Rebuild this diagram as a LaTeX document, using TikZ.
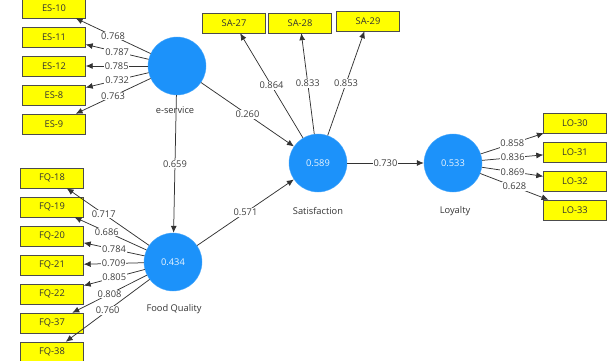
\documentclass[tikz,border=0pt]{standalone}
\usepackage{fontspec}
\setmainfont{Open Sans}
\usetikzlibrary{calc}
\usetikzlibrary{arrows.meta}
\definecolor{lvblue}{RGB}{28,146,250}
\definecolor{indyellow}{RGB}{255,255,0}

\begin{document}
\begin{tikzpicture}[x=1pt,y=-1pt,font=\fontsize{9.3}{11}\selectfont,
   lv/.style={circle,fill=lvblue,draw=lvblue!80!white,minimum size=58pt,inner sep=0pt,text=white!90!lvblue},
   ind/.style={rectangle,draw=black!70,fill=indyellow,minimum width=63pt,minimum height=20pt,inner sep=0pt,text=black!80},
   lnk/.style={draw=black!80,line width=0.75pt,-{Latex[length=7pt,width=6pt]}},
   coef/.style={fill=white,inner sep=0.8pt,text=black!75},
   lvname/.style={text=black!80}]
\useasboundingbox (0,0) rectangle (611,360);
\node[lv] (es) at (177,66) {};
\node[lvname] (esname) at (175,110) {e-service};
\node[lv] (fq) at (173,262) {0.434};
\node[lvname] (fqname) at (174,309) {Food Quality};
\node[lv] (sa) at (318,163) {0.589};
\node[lvname] (saname) at (318,211) {Satisfaction};
\node[lv] (lo) at (453,163) {0.533};
\node[lvname] (loname) at (455,211) {Loyalty};
\node[ind] (es10) at (54,8) {ES-10};
\node[ind] (es11) at (54,37) {ES-11};
\node[ind] (es12) at (54,66) {ES-12};
\node[ind] (es8) at (54,95) {ES-8};
\node[ind] (es9) at (54,124) {ES-9};
\node[ind] (fq18) at (52,178) {FQ-18};
\node[ind] (fq19) at (52,207) {FQ-19};
\node[ind] (fq20) at (52,236) {FQ-20};
\node[ind] (fq21) at (52,265) {FQ-21};
\node[ind] (fq22) at (52,294) {FQ-22};
\node[ind] (fq37) at (52,323) {FQ-37};
\node[ind] (fq38) at (52,352) {FQ-38};
\node[ind] (sa27) at (234,23) {SA-27};
\node[ind] (sa28) at (300,23) {SA-28};
\node[ind] (sa29) at (368,21) {SA-29};
\node[ind] (lo30) at (575,123) {LO-30};
\node[ind] (lo31) at (575,152) {LO-31};
\node[ind] (lo32) at (575,181) {LO-32};
\node[ind] (lo33) at (575,210) {LO-33};
\draw[lnk] (es) -- node[coef] {0.768} (es10);
\draw[lnk] (es) -- node[coef] {0.787} (es11);
\draw[lnk] (es) -- node[coef] {0.785} (es12);
\draw[lnk] (es) -- node[coef] {0.732} (es8);
\draw[lnk] (es) -- node[coef] {0.763} (es9);
\draw[lnk] (fq) -- node[coef,pos=.55] {0.717} (fq18);
\draw[lnk] (fq) -- node[coef,pos=.55] {0.686} (fq19);
\draw[lnk] (fq) -- node[coef,pos=.5] {0.784} (fq20);
\draw[lnk] (fq) -- node[coef,pos=.5] {0.709} (fq21);
\draw[lnk] (fq) -- node[coef,pos=.5] {0.805} (fq22);
\draw[lnk] (fq) -- node[coef,pos=.5] {0.808} (fq37);
\draw[lnk] (fq) -- node[coef,pos=.5] {0.760} (fq38);
\draw[lnk] (sa) -- node[coef] {0.864} (sa27);
\draw[lnk] (sa) -- node[coef] {0.833} (sa28);
\draw[lnk] (sa) -- node[coef] {0.853} (sa29);
\draw[lnk] (lo) -- node[coef] {0.858} (lo30);
\draw[lnk] (lo) -- node[coef] {0.836} (lo31);
\draw[lnk] (lo) -- node[coef] {0.869} (lo32);
\draw[lnk] (lo) -- node[coef] {0.628} (lo33);
\draw[lnk] (es) -- node[coef] {0.659} (fq);
\draw[lnk] (es) -- node[coef] {0.260} (sa);
\draw[lnk] (fq) -- node[coef] {0.571} (sa);
\draw[lnk] (sa) -- node[coef] {0.730} (lo);
\end{tikzpicture}
\end{document}
